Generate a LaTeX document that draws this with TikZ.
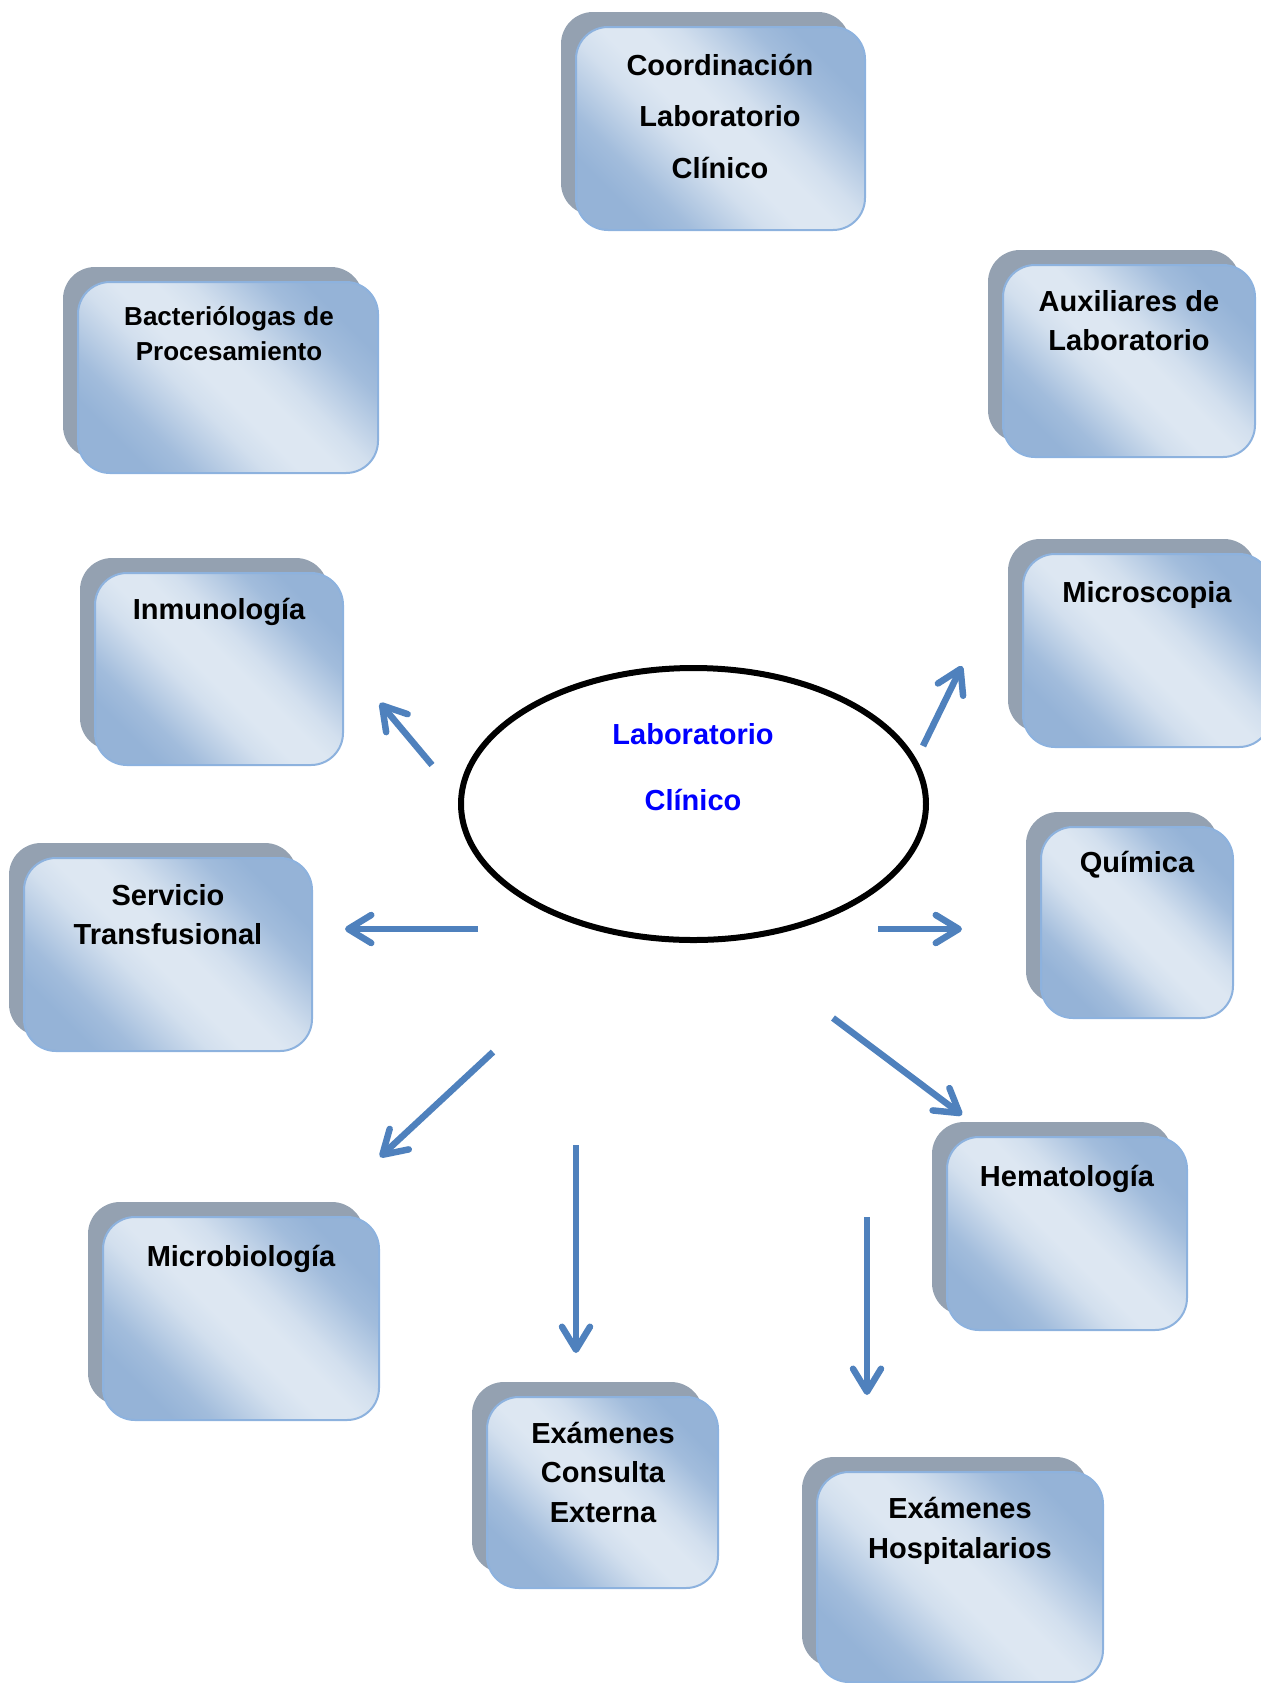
\documentclass[tikz,border=0pt]{standalone}
\usepackage{fontspec}
\setmainfont{Liberation Sans}
\usetikzlibrary{shapes.geometric,arrows.meta,shadows}
\definecolor{shadowgray}{RGB}{148,161,177}
\definecolor{boxdark}{RGB}{149,179,215}
\definecolor{boxlight}{RGB}{221,231,242}
\colorlet{boxmidA}{boxdark!82!boxlight}
\colorlet{boxmidB}{boxdark!45!boxlight}
\colorlet{boxmidC}{boxdark!15!boxlight}
\definecolor{boxborder}{RGB}{141,178,222}
\definecolor{arrowblue}{RGB}{79,129,189}
\definecolor{labblue}{RGB}{0,0,255}
\pgfdeclareverticalshading{boxshade}{100bp}{color(0bp)=(boxdark); color(25bp)=(boxdark); color(31bp)=(boxmidA); color(37bp)=(boxmidB); color(42bp)=(boxmidC); color(47bp)=(boxlight); color(53bp)=(boxlight); color(58bp)=(boxmidC); color(63bp)=(boxmidB); color(69bp)=(boxmidA); color(75bp)=(boxdark); color(100bp)=(boxdark)}
\begin{document}
\begin{tikzpicture}[x=0.5pt,y=-0.5pt,
  labbox/.style={rectangle, rounded corners=16pt, inner sep=0pt,
    draw=boxborder, line width=1pt,
    shading=boxshade, shading angle=-45,
    general shadow={fill=shadowgray, shadow xshift=-7.5pt, shadow yshift=7.5pt}},
  boxtext/.style={align=center, inner sep=0pt, text=black,
    font=\bfseries\fontsize{14.5pt}{19.5pt}\selectfont},
  flecha/.style={draw=arrowblue, line width=3.25pt,
    -{Straight Barb[length=11.5pt,width=14pt,round]}}]
\useasboundingbox (0,0) rectangle (1261,1683);

% boxes
\node[labbox, minimum width=144.5pt, minimum height=101.5pt] (coord) at (720.5,128.5) {};
\node[labbox, minimum width=150pt, minimum height=95.5pt] (bact) at (228,377.5) {};
\node[labbox, minimum width=126pt, minimum height=96pt] (aux) at (1129,361) {};
\node[labbox, minimum width=124pt, minimum height=96pt] (inmu) at (219,669) {};
\node[labbox, minimum width=124pt, minimum height=96.5pt] (micros) at (1147,650.5) {};
\node[labbox, minimum width=144pt, minimum height=96.5pt] (serv) at (168,954.5) {};
\node[labbox, minimum width=96pt, minimum height=95.5pt] (quim) at (1137,922.5) {};
\node[labbox, minimum width=138pt, minimum height=101.5pt] (microb) at (241,1318.5) {};
\node[labbox, minimum width=120pt, minimum height=96.5pt] (hemat) at (1067,1233.5) {};
\node[labbox, minimum width=115.5pt, minimum height=95.5pt] (consulta) at (602.5,1492.5) {};
\node[labbox, minimum width=143pt, minimum height=105pt] (hosp) at (960,1577) {};

% texts
\node[boxtext, font=\bfseries\fontsize{14.5pt}{25.75pt}\selectfont] (coord-t) at (720,116) {Coordinación\\Laboratorio\\Clínico};
\node[boxtext, font=\bfseries\fontsize{13pt}{17.5pt}\selectfont] (bact-t) at (229,333.5) {Bacteriólogas de\\Procesamiento};
\node[boxtext] (aux-t) at (1129,321) {Auxiliares de\\Laboratorio};
\node[boxtext] (inmu-t) at (219,612) {Inmunología};
\node[boxtext] (micros-t) at (1147,595) {Microscopia};
\node[boxtext] (serv-t) at (168,914.5) {Servicio\\Transfusional};
\node[boxtext] (quim-t) at (1137,865) {Química};
\node[boxtext] (microb-t) at (241,1259) {Microbiología};
\node[boxtext] (hemat-t) at (1067,1179) {Hematología};
\node[boxtext, font=\bfseries\fontsize{14.5pt}{19.75pt}\selectfont] (consulta-t) at (603,1472) {Exámenes\\Consulta\\Externa};
\node[boxtext, font=\bfseries\fontsize{14.5pt}{20pt}\selectfont] (hosp-t) at (960,1531) {Exámenes\\Hospitalarios};

% central ellipse
\node[ellipse, draw=black, line width=3pt, fill=white, inner sep=0pt,
  minimum width=232.5pt, minimum height=136pt] (lab) at (693.5,804) {};
\node[align=center, inner sep=0pt, text=labblue,
  font=\bfseries\fontsize{14.5pt}{33pt}\selectfont] (lab-t) at (693,767) {Laboratorio\\Clínico};

% arrow end points
\coordinate (a1s) at (432,765);  \coordinate (a1e) at (380,703);
\coordinate (a2s) at (478,929);  \coordinate (a2e) at (345,929);
\coordinate (a3s) at (493,1052); \coordinate (a3e) at (380,1157);
\coordinate (a4s) at (576,1145); \coordinate (a4e) at (576,1353);
\coordinate (a5s) at (867,1217); \coordinate (a5e) at (867,1395);
\coordinate (a6s) at (833,1018); \coordinate (a6e) at (962,1115);
\coordinate (a7s) at (878,929);  \coordinate (a7e) at (962,929);
\coordinate (a8s) at (923,746);  \coordinate (a8e) at (962,666);

\draw[flecha] (a1s) -- (a1e);
\draw[flecha] (a2s) -- (a2e);
\draw[flecha] (a3s) -- (a3e);
\draw[flecha] (a4s) -- (a4e);
\draw[flecha] (a5s) -- (a5e);
\draw[flecha] (a6s) -- (a6e);
\draw[flecha] (a7s) -- (a7e);
\draw[flecha] (a8s) -- (a8e);
\end{tikzpicture}
\end{document}
